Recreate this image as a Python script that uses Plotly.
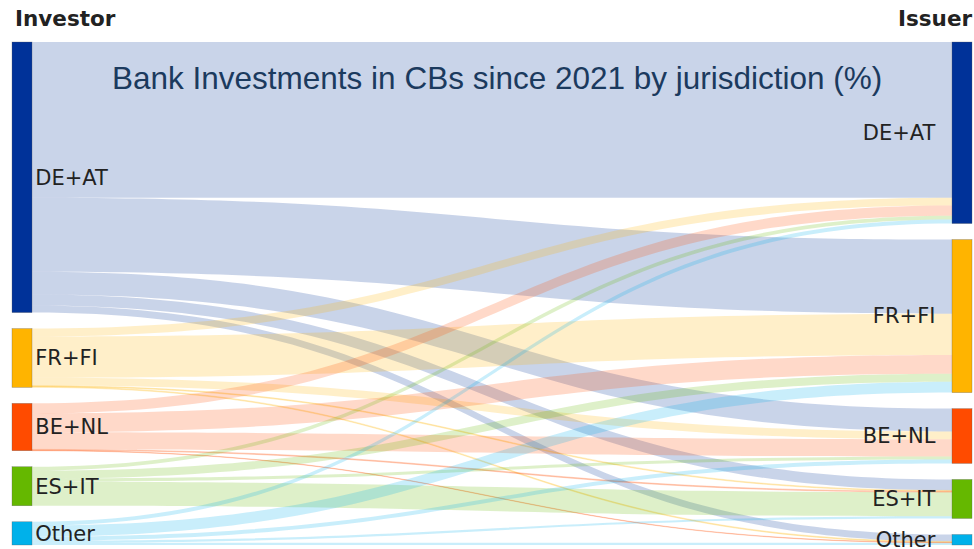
import plotly.graph_objects as go

# Jurisdictions (same list on the investor side and the issuer side)
regions = ["DE+AT", "FR+FI", "BE+NL", "ES+IT", "Other"]
region_colors = ["#003299", "#FFB400", "#FF4B00", "#65B800", "#00B1EA"]

# Share of bank investments in covered bonds since 2021 (%), investor -> issuer
flows_de_at = [35.5, 16.9, 5.2, 2.5, 1.6]
flows_fr_fi = [1.8, 9.4, 1.8, 0.2, 0.2]
flows_be_nl = [2.3, 4.3, 3.9, 0.2, 0.1]
flows_es_it = [0.9, 1.8, 0.7, 5.5, 0.0]
flows_other = [0.9, 2.5, 0.9, 0.5, 0.5]

flow_rows = [flows_de_at, flows_fr_fi, flows_be_nl, flows_es_it, flows_other]

n = len(regions)
source, target, value, link_color = [], [], [], []


def rgba(hex_color, alpha):
    h = hex_color.lstrip("#")
    r, g, b = int(h[0:2], 16), int(h[2:4], 16), int(h[4:6], 16)
    return f"rgba({r},{g},{b},{alpha})"


for i, row in enumerate(flow_rows):
    for j, v in enumerate(row):
        if v > 0:
            source.append(i)
            target.append(n + j)
            value.append(v)
            link_color.append(rgba(region_colors[i], 0.21))

# Node geometry: stack each column top to bottom in list order
W, H = 974, 549
top_px, bottom_px = 42, 545
left_px, right_px = 12, 972
thickness = 20
pad = 16
dom_h = bottom_px - top_px
dom_w = right_px - left_px

in_tot = [sum(r) for r in flow_rows]
out_tot = [sum(r[j] for r in flow_rows) for j in range(n)]
total = sum(in_tot)
ky = (dom_h - pad * (n - 1)) / total


def centers(tots):
    ys, acc = [], 0.0
    for k, t in enumerate(tots):
        c = acc * ky + k * pad + t * ky / 2
        ys.append(c / dom_h)
        acc += t
    return ys


node_x = [thickness / 2 / dom_w] * n + [1 - thickness / 2 / dom_w] * n
node_y = centers(in_tot) + centers(out_tot)

# issuer labels sit a little further away from their bars
left_labels = regions
right_labels = [r + "\u00a0\u00a0" for r in regions]

fig = go.Figure(
    go.Sankey(
        arrangement="fixed",
        domain=dict(x=[left_px / W, right_px / W], y=[1 - bottom_px / H, 1 - top_px / H]),
        node=dict(
            label=left_labels + right_labels,
            color=region_colors + region_colors,
            line=dict(color="rgba(90,90,90,0.6)", width=0.5),
            thickness=thickness,
            pad=pad,
            x=node_x,
            y=node_y,
            hoverinfo="skip",
        ),
        link=dict(source=source, target=target, value=value, color=link_color, hoverinfo="skip"),
        textfont=dict(family="DejaVu Sans", size=21, color="#222222", shadow="none"),
    )
)

fig.add_annotation(
    text="Bank Investments in CBs since 2021 by jurisdiction (%)",
    x=497 / W, y=1 - 78 / H, xref="paper", yref="paper",
    xanchor="center", yanchor="middle", showarrow=False,
    font=dict(family="Liberation Sans, Arial", size=31.5, color="#1B3A5E"),
)
fig.add_annotation(
    text="<b>Investor</b>", x=13 / W, y=1 - 18 / H, xref="paper", yref="paper",
    xanchor="left", yanchor="middle", showarrow=False,
    font=dict(family="DejaVu Sans", size=21.5, color="#222222"),
)
fig.add_annotation(
    text="<b>Issuer</b>", x=974 / W, y=1 - 18 / H, xref="paper", yref="paper",
    xanchor="right", yanchor="middle", showarrow=False,
    font=dict(family="DejaVu Sans", size=21.5, color="#222222"),
)

fig.update_layout(
    width=W, height=H,
    margin=dict(l=0, r=0, t=0, b=0),
    paper_bgcolor="white", plot_bgcolor="white",
)

fig.write_html("out.html")
